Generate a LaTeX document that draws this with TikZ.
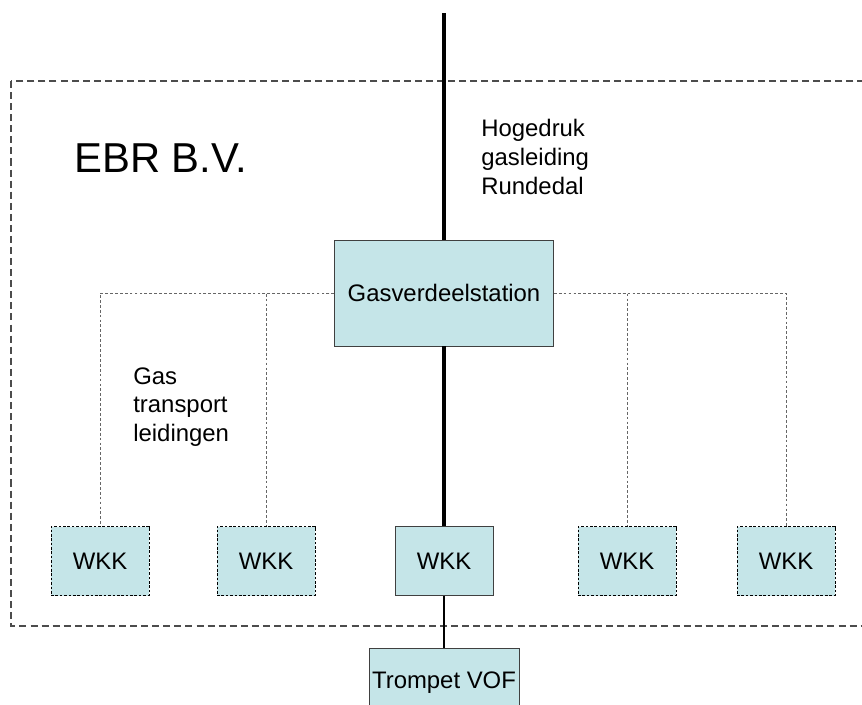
\documentclass[tikz,border=0pt]{standalone}
\usepackage{fontspec}
\setmainfont{Liberation Sans}
\usetikzlibrary{positioning}
\definecolor{boxfill}{HTML}{C5E5E8}
\definecolor{boxline}{HTML}{404040}

\tikzset{
  unit/.style={draw=boxline, fill=boxfill, inner sep=0pt, font=\fontsize{13.6}{16.4}\selectfont},
  wkk/.style={unit, minimum width=1.96cm, minimum height=1.38cm},
  wkkdash/.style={wkk, draw=black, dash pattern=on 1.5pt off 1pt},
  pipe/.style={draw=gray!80!black, dash pattern=on 1.6pt off 1.2pt, line width=0.5pt},
  mainpipe/.style={line width=2.3pt},
  label/.style={align=left, anchor=west, inner sep=0pt, font=\fontsize{13.6}{16.4}\selectfont}
}

\begin{document}
\begin{tikzpicture}[x=0.02cm, y=-0.02cm]
  \useasboundingbox (0,0) rectangle (862,704);
  % company border
  \draw[gray!60!black, dash pattern=on 4pt off 2.3pt, line width=0.6pt] (11,81) rectangle (900,626);
  \node[anchor=west, inner sep=0pt, font=\fontsize{23.8}{28}\selectfont] (ebr) at (74,158) {EBR B.V.};

  % nodes
  \node[unit, minimum width=4.38cm, minimum height=2.12cm] (gvs) at (444,293) {Gasverdeelstation};
  \node[wkkdash] (wkk1) at (100,561) {WKK};
  \node[wkkdash] (wkk2) at (266,561) {WKK};
  \node[wkk] (wkk3) at (444,561) {WKK};
  \node[wkkdash] (wkk4) at (627,561) {WKK};
  \node[wkkdash] (wkk5) at (786,561) {WKK};
  \node[unit, minimum width=3cm, minimum height=1.38cm] (tvof) at (444,683) {Trompet VOF};

  \node[label] (hdl) at (481,157) {Hogedruk\\gasleiding\\Rundedal};
  \node[label] (gtl) at (133,407) {Gas\\transport\\leidingen};

  % high pressure line
  \coordinate (hdtop) at (444,13);
  \draw[mainpipe] (hdtop) -- (gvs.north);
  \draw[mainpipe] (gvs.south) -- (wkk3.north);
  \draw[line width=0.8pt] (wkk3.south) -- (tvof.north);

  % transport lines
  \draw[pipe] (gvs.west) -| (wkk1.north);
  \draw[pipe] (gvs.west) -| (wkk2.north);
  \draw[pipe] (gvs.east) -| (wkk4.north);
  \draw[pipe] (gvs.east) -| (wkk5.north);
\end{tikzpicture}
\end{document}
